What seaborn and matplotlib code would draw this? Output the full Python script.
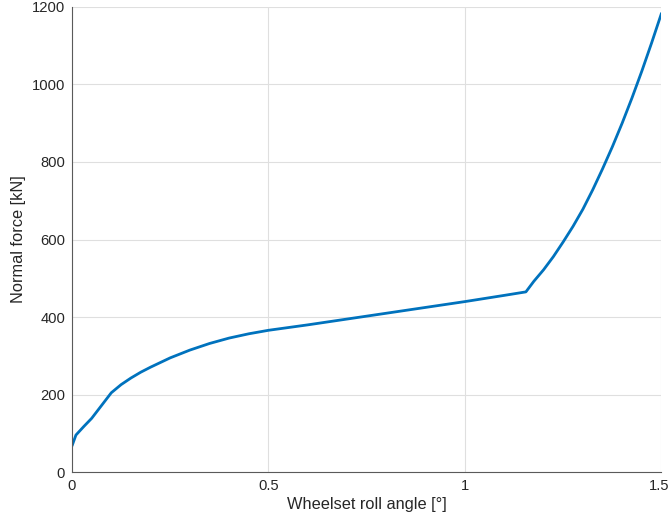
import matplotlib
matplotlib.use("Agg")
import matplotlib.pyplot as plt
import matplotlib.transforms as mtransforms
import pandas as pd
import seaborn as sns

# Wheelset roll angle [deg] and wheel-rail normal force [kN]
roll_angle = [0.0, 0.01, 0.03, 0.05, 0.075, 0.10, 0.125, 0.15, 0.175, 0.20,
              0.25, 0.30, 0.35, 0.40, 0.45, 0.50, 0.55, 0.60, 0.70, 0.80,
              0.90, 1.00, 1.10, 1.155, 1.175, 1.20, 1.225, 1.25, 1.275,
              1.30, 1.325, 1.35, 1.375, 1.40, 1.425, 1.45, 1.475, 1.50]
normal_force = [68, 96, 118, 139, 172, 205, 226, 243, 258, 271,
                295, 315, 332, 346, 357, 366, 373, 380, 395, 410,
                425, 440, 456, 465, 492, 522, 556, 594, 634,
                678, 728, 782, 839, 900, 965, 1034, 1107, 1183]

x_ticks = [0, 0.5, 1, 1.5]
x_tick_labels = ["0", "0.5", "1", "1.5"]
y_ticks = [0, 200, 400, 600, 800, 1000, 1200]

df = pd.DataFrame({"angle": roll_angle, "force": normal_force})

sns.set_style("white")
plt.rcParams["font.family"] = ["Liberation Sans", "DejaVu Sans"]

fig = plt.figure(figsize=(6.71, 5.25), dpi=100)
ax = fig.add_axes([0.1073, 0.1004, 0.8785, 0.8868])

sns.lineplot(data=df, x="angle", y="force", ax=ax, color="#0072BD",
             linewidth=2.0, sort=False, estimator=None)

ax.set_xlim(0, 1.5)
ax.set_ylim(0, 1200)
ax.set_xticks(x_ticks)
ax.set_xticklabels(x_tick_labels)
ax.set_yticks(y_ticks)

ax.grid(True, color="#dfdfdf", linewidth=0.8)
ax.set_axisbelow(True)

for side in ("top", "right"):
    ax.spines[side].set_visible(False)
for side in ("left", "bottom"):
    ax.spines[side].set_color("#5a5a5a")
    ax.spines[side].set_linewidth(0.8)

ax.tick_params(axis="both", direction="in", length=4, width=0.8,
               color="#5a5a5a", labelsize=10.6, labelcolor="#262626", pad=5)

# nudge the last x tick label so it stays inside the canvas
last = ax.get_xticklabels()[-1]
last.set_transform(last.get_transform() +
                   mtransforms.ScaledTranslation(-2 / 100, 0, fig.dpi_scale_trans))

ax.set_xlabel("Wheelset roll angle [°]", fontsize=11.8, color="#262626", labelpad=3)
ax.set_ylabel("Normal force [kN]", fontsize=11.8, color="#262626", labelpad=4)

fig.savefig("out.png", dpi=100)
